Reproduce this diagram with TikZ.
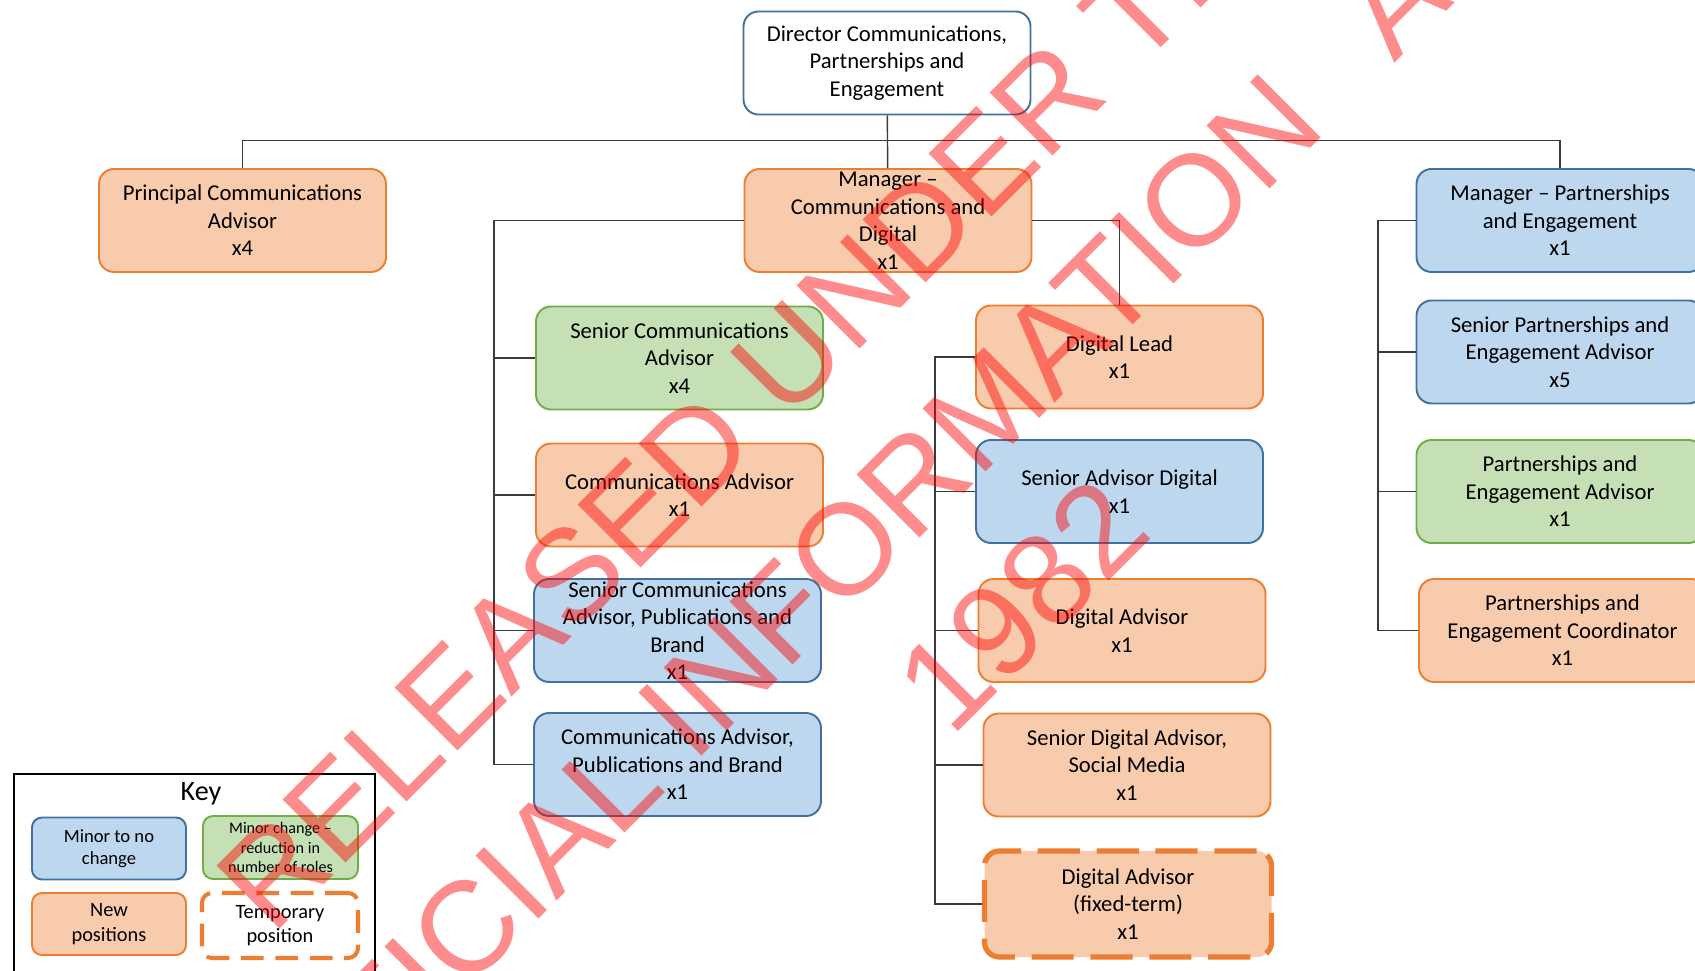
\documentclass[tikz,border=0pt]{standalone}
\usepackage{fontspec}
\setmainfont{Carlito}
\newfontfamily\wmfont{Liberation Sans}
\definecolor{orfill}{HTML}{F8CBAD}
\definecolor{ordraw}{HTML}{ED7D31}
\definecolor{blfill}{HTML}{BDD7EE}
\definecolor{bldraw}{HTML}{41719C}
\definecolor{grfill}{HTML}{C5E0B4}
\definecolor{grdraw}{HTML}{70AD47}
\definecolor{linkgray}{HTML}{3A3A3A}

\begin{document}
\begin{tikzpicture}[
	role/.style={rounded corners=0.3cm, line width=1.1pt, minimum width=5.74cm, minimum height=2.06cm,
		inner sep=1pt, align=center, font=\fontsize{12.9}{15.65}\selectfont},
	neworange/.style={role, fill=orfill, draw=ordraw},
	minorblue/.style={role, fill=blfill, draw=bldraw},
	reducegreen/.style={role, fill=grfill, draw=grdraw},
	tempdash/.style={line width=3pt, draw=ordraw, dash pattern=on 24pt off 9.5pt},
	keybox/.style={rounded corners=0.2cm, line width=1.1pt, minimum width=3.08cm, minimum height=1.24cm,
		inner sep=1pt, align=center},
	link/.style={draw=linkgray, line width=0.8pt},
	wm/.style={rotate=45, text=red, text opacity=0.45, inner sep=0pt, font=\wmfont\fontsize{73.7}{80}\selectfont}
]
	\useasboundingbox (0,0) rectangle (33.9,19.4);

	% top level
	\node[role, fill=white, draw=bldraw] (dir) at (17.74,18.14) {Director Communications,\\Partnerships and\\Engagement};
	\node[neworange] (prin) at (4.85,14.99) {Principal Communications\\Advisor\\x4};
	\node[neworange, inner ysep=-3pt] (mgrcd) at (17.76,14.99) {Manager --\\Communications and\\Digital\\x1};
	\node[minorblue] (mgrpe) at (31.2,14.99) {Manager -- Partnerships\\and Engagement\\x1};

	% communications team
	\node[reducegreen] (sca) at (13.59,12.24) {Senior Communications\\Advisor\\x4};
	\node[neworange] (ca) at (13.59,9.5) {Communications Advisor\\x1};
	\node[minorblue, inner ysep=-3pt] (scap) at (13.55,6.79) {Senior Communications\\Advisor, Publications and\\Brand\\x1};
	\node[minorblue] (capb) at (13.55,4.11) {Communications Advisor,\\Publications and Brand\\x1};

	% digital team
	\node[neworange] (dl) at (22.39,12.26) {Digital Lead\\x1};
	\node[minorblue] (sad) at (22.39,9.57) {Senior Advisor Digital\\x1};
	\node[neworange] (da) at (22.44,6.79) {Digital Advisor\\x1};
	\node[neworange] (sdas) at (22.54,4.1) {Senior Digital Advisor,\\Social Media\\x1};
	\node[neworange, tempdash, minimum height=2.12cm] (daft) at (22.56,1.32) {Digital Advisor\\(fixed-term)\\x1};

	% partnerships team
	\node[minorblue] (spea) at (31.2,12.36) {Senior Partnerships and\\Engagement Advisor\\x5};
	\node[reducegreen] (pea) at (31.2,9.57) {Partnerships and\\Engagement Advisor\\x1};
	\node[neworange] (pec) at (31.25,6.79) {Partnerships and\\Engagement Coordinator\\x1};

	% connectors
	\coordinate (bus) at (17.75,16.59);
	\draw[link] (dir) -- (mgrcd);
	\draw[link] (prin.north) |- (bus) -| (mgrpe.north);

	\coordinate (cteam) at (9.88,14.99);
	\draw[link, line width=1.1pt] (mgrcd.west) -- (cteam) |- (capb.west);
	\foreach \n in {sca,ca,scap}
		\draw[link] (cteam |- \n.west) -- (\n.west);

	\draw[link] (mgrcd.east) -| (dl.north);
	\coordinate (dteam) at (18.7,12.26);
	\draw[link] (dl.west) -- (dteam) |- (daft.west);
	\foreach \n in {sad,da,sdas}
		\draw[link] (dteam |- \n.west) -- (\n.west);

	\coordinate (pteam) at (27.56,14.99);
	\draw[link] (mgrpe.west) -- (pteam) |- (pec.west);
	\foreach \n in {spea,pea}
		\draw[link] (pteam |- \n.west) -- (\n.west);

	% key
	\draw[line width=1.4pt] (0.28,-0.3) rectangle (7.5,3.92);
	\node[font=\fontsize{16}{19}\selectfont] (keytitle) at (4.02,3.52) {Key};
	\node[keybox, fill=blfill, draw=bldraw, font=\fontsize{10.6}{12.8}\selectfont] (kblue) at (2.18,2.43) {Minor to no\\change};
	\node[keybox, fill=grfill, draw=grdraw, minimum height=1.26cm, minimum width=3.1cm, font=\fontsize{9.2}{11}\selectfont] (kgreen) at (5.61,2.45) {Minor change --\\reduction in\\number of roles};
	\node[keybox, fill=orfill, draw=ordraw, font=\fontsize{11.6}{14}\selectfont] (korange) at (2.18,0.92) {New\\positions};
	\node[keybox, draw=ordraw, line width=2.3pt, dash pattern=on 13pt off 6.6pt, minimum width=3.12cm, minimum height=1.3cm, font=\fontsize{11.6}{14}\selectfont] (ktemp) at (5.6,0.89) {Temporary\\position};

	% watermark
	\node[wm] (wm1) at (15.3,11.78) {RELEASED UNDER THE};
	\node[wm] (wm2) at (17.71,9.21) {OFFICIAL INFORMATION \hspace{0.45em}ACT};
	\node[wm] (wm3) at (20.44,7.3) {1982};
\end{tikzpicture}
\end{document}
